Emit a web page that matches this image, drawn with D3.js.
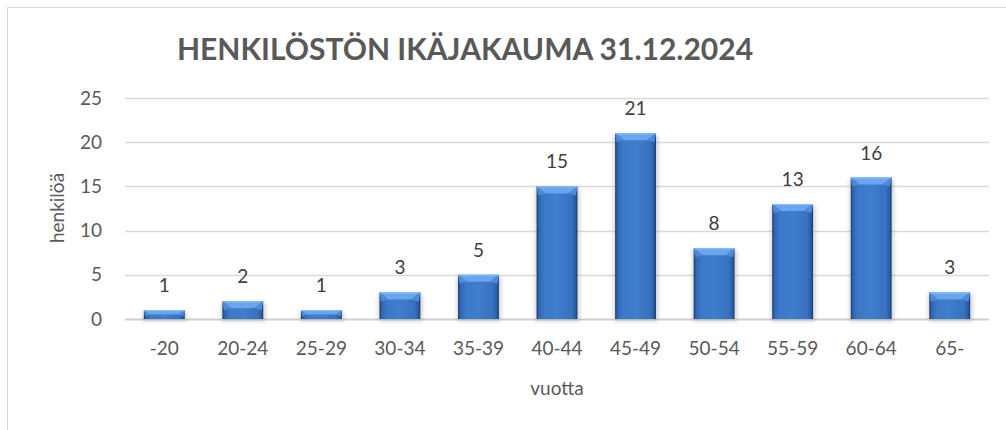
<!DOCTYPE html>
<html>
<head>
<meta charset="utf-8">
<script src="https://cdn.jsdelivr.net/npm/d3@7"></script>
<style>
  body { margin: 0; background: #fff; }
  text { font-family: Lato, "Open Sans", sans-serif; }
</style>
</head>
<body>
<div class="chart"></div>
<script>
// sizes
const w = 1006;
const h = 430;
const margin = {top: 98, right: 17, bottom: 111, left: 125};

// data
const ageGroups = ["-20", "20-24", "25-29", "30-34", "35-39", "40-44", "45-49", "50-54", "55-59", "60-64", "65-"];
const persons = [1, 2, 1, 3, 5, 15, 21, 8, 13, 16, 3];
const yTicks = [0, 5, 10, 15, 20, 25];
const title = "HENKILÖSTÖN IKÄJAKAUMA 31.12.2024";

const svg = d3.select(".chart").append("svg")
  .attr("width", w)
  .attr("height", h);

// frame
svg.append("rect")
  .attr("x", 7.5).attr("y", 7.5)
  .attr("width", w + 10).attr("height", h + 10)
  .attr("fill", "#fff")
  .attr("stroke", "#d9d9d9");

const defs = svg.append("defs");
const grad = defs.append("linearGradient").attr("id", "barGrad")
  .attr("x1", "0").attr("x2", "1").attr("y1", "0").attr("y2", "0");
grad.append("stop").attr("offset", "0%").attr("stop-color", "#1a3d6e");
grad.append("stop").attr("offset", "6%").attr("stop-color", "#2f67b4");
grad.append("stop").attr("offset", "18%").attr("stop-color", "#3b78c8");
grad.append("stop").attr("offset", "50%").attr("stop-color", "#3f7dcd");
grad.append("stop").attr("offset", "85%").attr("stop-color", "#3872c0");
grad.append("stop").attr("offset", "95%").attr("stop-color", "#2a5ea6");
grad.append("stop").attr("offset", "100%").attr("stop-color", "#163762");

const shadow = defs.append("filter").attr("id", "shadow")
  .attr("x", "-20%").attr("y", "-20%").attr("width", "140%").attr("height", "140%");
shadow.append("feGaussianBlur").attr("stdDeviation", 2);

const x = d3.scaleBand()
  .domain(ageGroups)
  .range([margin.left, w - margin.right])
  .paddingInner(0.48)
  .paddingOuter(0.24);

const y = d3.scaleLinear()
  .domain([0, 25])
  .range([h - margin.bottom, margin.top]);

// gridlines
svg.append("g")
  .selectAll("line")
  .data(yTicks)
  .join("line")
  .attr("x1", margin.left)
  .attr("x2", w - margin.right)
  .attr("y1", d => Math.round(y(d)) + 0.5)
  .attr("y2", d => Math.round(y(d)) + 0.5)
  .attr("stroke", d => d === 0 ? "#d0d0d0" : "#d9d9d9")
  .attr("stroke-width", d => d === 0 ? 2 : 1.3);

// y axis
const yAxis = d3.axisLeft(y)
  .tickValues(yTicks)
  .tickSize(0)
  .tickPadding(0);

svg.append("g")
  .attr("transform", "translate(" + (margin.left - 23) + ",0)")
  .call(yAxis)
  .call(g => g.select(".domain").remove())
  .selectAll("text")
  .attr("fill", "#595959")
  .style("font-size", "19px")
  .style("font-family", "Lato, sans-serif");

// x axis
const xAxis = d3.axisBottom(x).tickSize(0).tickPadding(0);
svg.append("g")
  .attr("transform", "translate(0," + (h - margin.bottom + 22) + ")")
  .call(xAxis)
  .call(g => g.select(".domain").remove())
  .selectAll("text")
  .attr("fill", "#595959")
  .style("font-size", "19px")
  .style("font-family", "Lato, sans-serif");

// bars
const bw = x.bandwidth();
const bars = svg.append("g").selectAll("g")
  .data(ageGroups.map((a, i) => ({age: a, n: persons[i]})))
  .join("g");

bars.append("rect")
  .attr("x", d => x(d.age) - 1)
  .attr("y", d => y(d.n) + 2)
  .attr("width", bw + 3)
  .attr("height", d => y(0) - y(d.n))
  .attr("fill", "#7f7f7f")
  .attr("opacity", 0.4)
  .attr("filter", "url(#shadow)");

bars.append("rect")
  .attr("x", d => x(d.age))
  .attr("y", d => y(d.n))
  .attr("width", bw)
  .attr("height", d => y(0) - y(d.n))
  .attr("fill", "url(#barGrad)");

// bevel: side triangles and top face
function bevel(d) {
  const x0 = x(d.age), x1 = x0 + bw, t = y(d.n);
  const bh = Math.min(7, (y(0) - t) / 2);
  return {x0, x1, t, bh, inset: bh * 1.3};
}

bars.append("path")
  .attr("d", d => {
    const b = bevel(d);
    return `M${b.x0},${b.t}L${b.x0 + b.inset},${b.t + b.bh}L${b.x1 - b.inset},${b.t + b.bh}L${b.x1},${b.t}Z`;
  })
  .attr("fill", "#6aa6ee");

bars.append("path")
  .attr("d", d => {
    const b = bevel(d);
    return `M${b.x0},${b.t}L${b.x0 + b.inset},${b.t + b.bh}L${b.x0 + 1.5},${b.t + b.bh + 2}Z` +
           `M${b.x1},${b.t}L${b.x1 - b.inset},${b.t + b.bh}L${b.x1 - 1.5},${b.t + b.bh + 2}Z`;
  })
  .attr("fill", "#4f8ad8");

bars.append("line")
  .attr("x1", d => x(d.age))
  .attr("x2", d => x(d.age) + bw)
  .attr("y1", d => y(d.n) + 0.5)
  .attr("y2", d => y(d.n) + 0.5)
  .attr("stroke", "#8ec0f7")
  .attr("stroke-width", 1);

// data labels
bars.append("text")
  .attr("x", d => x(d.age) + bw / 2)
  .attr("y", d => y(d.n) - 18)
  .attr("text-anchor", "middle")
  .attr("fill", "#404040")
  .style("font-size", "19px")
  .text(d => d.n);

// title
svg.append("text")
  .attr("x", 465)
  .attr("y", 60)
  .attr("text-anchor", "middle")
  .attr("fill", "#595959")
  .style("font-size", "30px")
  .style("font-weight", "bold")
  .text(title);

// axis titles
svg.append("text")
  .attr("transform", "translate(64,208) rotate(-90)")
  .attr("text-anchor", "middle")
  .attr("fill", "#595959")
  .style("font-size", "19px")
  .text("henkilöä");

svg.append("text")
  .attr("x", (margin.left + w - margin.right) / 2)
  .attr("y", 395)
  .attr("text-anchor", "middle")
  .attr("fill", "#595959")
  .style("font-size", "19px")
  .text("vuotta");
</script>
</body>
</html>
